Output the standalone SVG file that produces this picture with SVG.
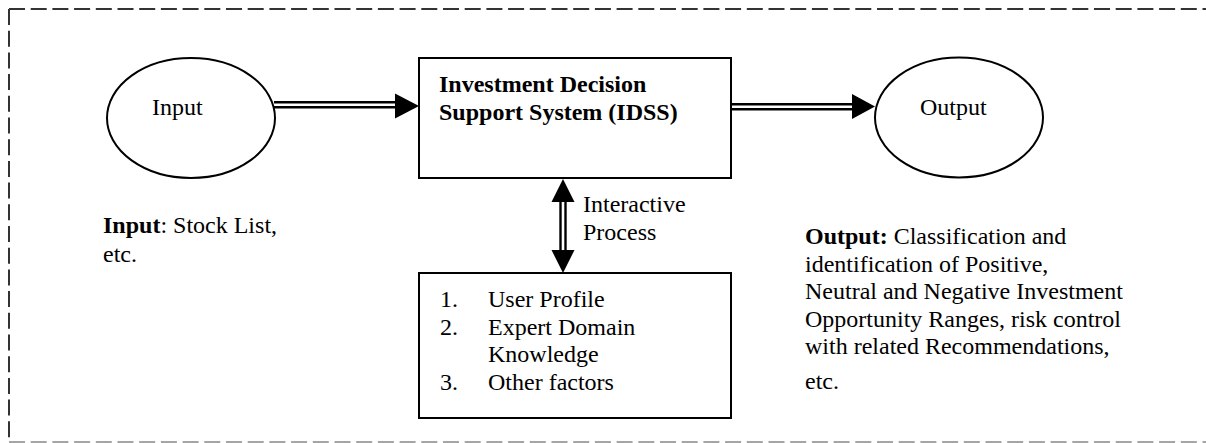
<svg xmlns="http://www.w3.org/2000/svg" width="1206" height="443" viewBox="0 0 1206 443">
  <style>
    text { font-family: "Liberation Serif", "Times New Roman", serif; font-size: 24px; fill: #000; }
    .b { font-weight: bold; }
    .shape { fill: #fff; stroke: #000; stroke-width: 2; }
    .frame { fill: none; stroke: #333; stroke-width: 2; stroke-dasharray: 16 5.7; }
    .frame-low { fill: none; stroke: #888; stroke-width: 1.4; stroke-dasharray: 16 5.7; }
    .rail { stroke: #000; stroke-width: 2.4; fill: none; }
    .head { fill: #000; stroke: none; }
  </style>

  <!-- dashed system boundary (open on the right) -->
  <g id="boundary">
    <line class="frame" x1="9" y1="9" x2="1206" y2="9"/>
    <line class="frame" x1="9" y1="9" x2="9" y2="442"/>
    <line class="frame-low" x1="9" y1="442" x2="1206" y2="442"/>
  </g>

  <g id="input">
    <ellipse class="shape" cx="191" cy="118" rx="84" ry="60"/>
    <text x="152" y="115">Input</text>
  </g>

  <g id="idss">
    <rect class="shape" x="419" y="58" width="312" height="120"/>
    <text class="b" x="439" y="92">Investment Decision</text>
    <text class="b" x="439" y="120">Support System (IDSS)</text>
  </g>

  <g id="output">
    <ellipse class="shape" cx="959" cy="117.5" rx="84" ry="60"/>
    <text x="920" y="115">Output</text>
  </g>

  <g id="factors">
    <rect class="shape" x="419" y="273" width="312" height="145"/>
    <text x="440" y="307">1.</text>
    <text x="488" y="307">User Profile</text>
    <text x="440" y="334.5">2.</text>
    <text x="488" y="334.5">Expert Domain</text>
    <text x="488" y="362">Knowledge</text>
    <text x="440" y="389.5">3.</text>
    <text x="488" y="389.5">Other factors</text>
  </g>

  <!-- double-ruled connectors with solid heads -->
  <g id="connectors">
    <line class="rail" x1="274" y1="102.3" x2="396" y2="102.3"/>
    <line class="rail" x1="274" y1="107.3" x2="396" y2="107.3"/>
    <polygon class="head" points="395,93.5 419,106 395,118.5"/>

    <line class="rail" x1="732" y1="104.3" x2="853" y2="104.3"/>
    <line class="rail" x1="732" y1="109.3" x2="853" y2="109.3"/>
    <polygon class="head" points="852,94 875,106.5 852,119"/>

    <line class="rail" x1="560.5" y1="201" x2="560.5" y2="251"/>
    <line class="rail" x1="565.5" y1="201" x2="565.5" y2="251"/>
    <polygon class="head" points="551.5,202 563,179 574.5,202"/>
    <polygon class="head" points="551.5,250 563,273 574.5,250"/>
  </g>

  <g id="labels">
    <text x="583" y="212">Interactive</text>
    <text x="583" y="240">Process</text>

    <text x="103" y="233"><tspan class="b">Input</tspan>: Stock List,</text>
    <text x="103" y="262">etc.</text>

    <text x="805" y="244"><tspan class="b">Output:</tspan> Classification and</text>
    <text x="805" y="271.5">identification of Positive,</text>
    <text x="805" y="299">Neutral and Negative Investment</text>
    <text x="805" y="326.5">Opportunity Ranges, risk control</text>
    <text x="805" y="354">with related Recommendations,</text>
    <text x="805" y="389">etc.</text>
  </g>
</svg>
